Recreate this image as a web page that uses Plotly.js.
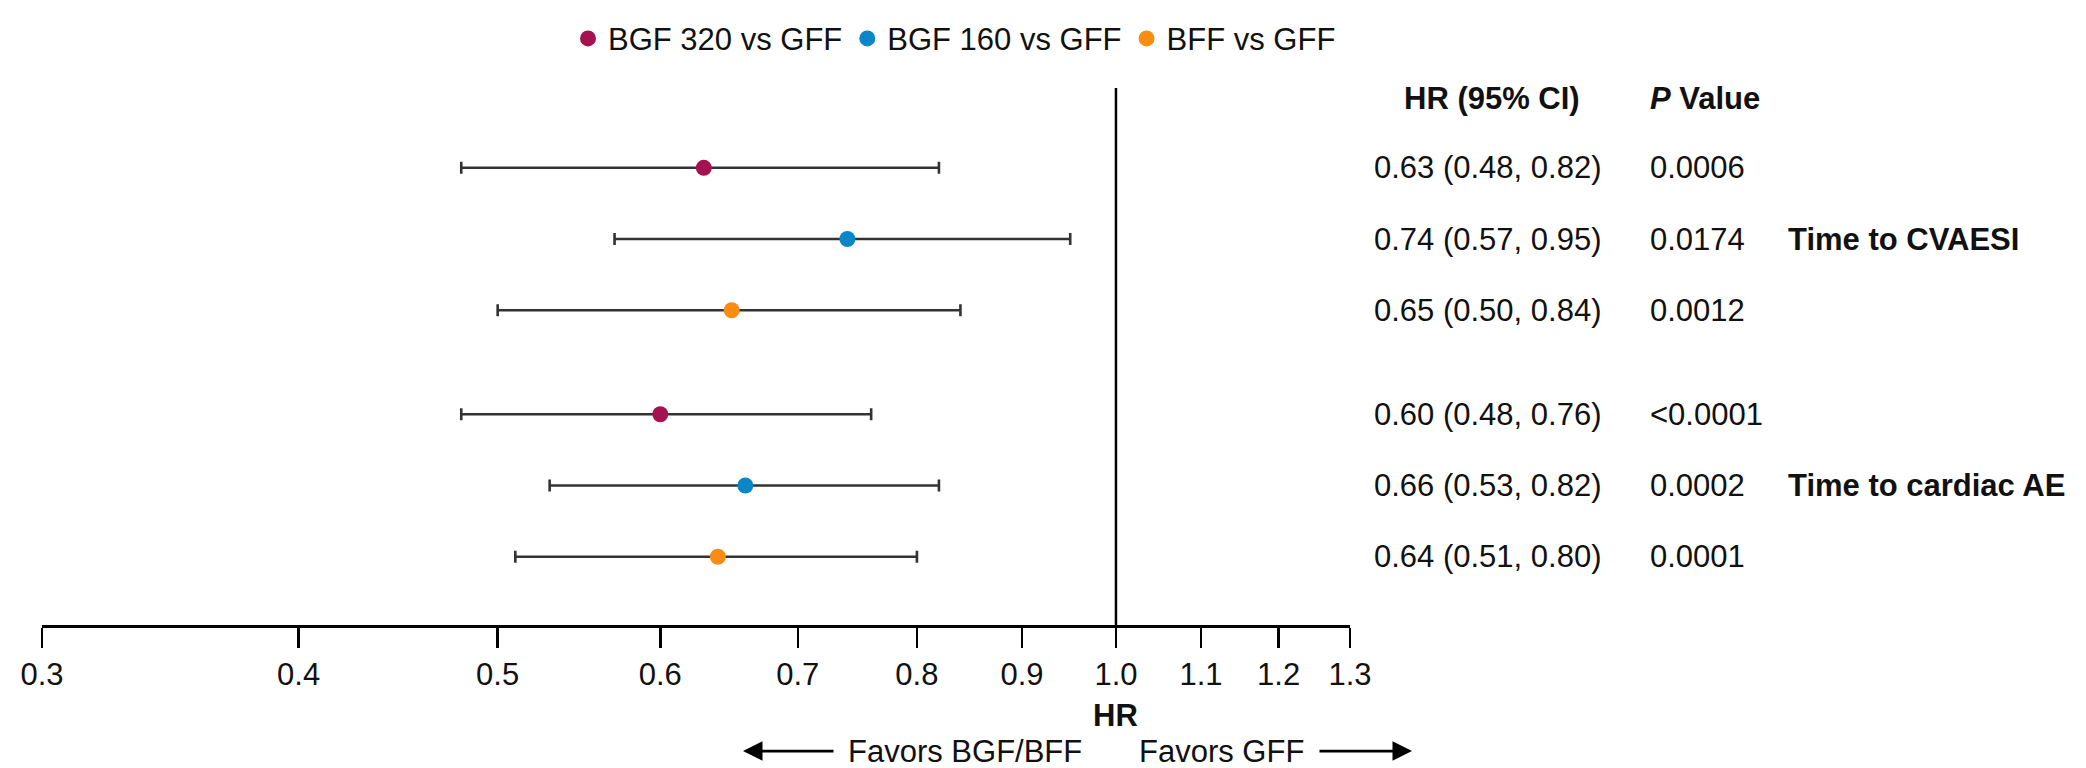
<!DOCTYPE html>
<html>
<head>
<meta charset="utf-8">
<script src="https://cdn.plot.ly/plotly-3.0.1.min.js"></script>
<style>
  html, body { margin: 0; padding: 0; background: #fff; }
  #chart { width: 2086px; height: 768px; }
</style>
</head>
<body>
<div id="chart"></div>
<script>
// ---- data ----
const seriesNames = ['BGF 320 vs GFF', 'BGF 160 vs GFF', 'BFF vs GFF'];
const outcomeNames = ['Time to CVAESI', 'Time to cardiac AE'];

const hrCVAESI    = [0.63, 0.74, 0.65];
const lowerCVAESI = [0.48, 0.57, 0.50];
const upperCVAESI = [0.82, 0.95, 0.84];
const pCVAESI     = ['0.0006', '0.0174', '0.0012'];

const hrCardiac    = [0.60, 0.66, 0.64];
const lowerCardiac = [0.48, 0.53, 0.51];
const upperCardiac = [0.76, 0.82, 0.80];
const pCardiac     = ['<0.0001', '0.0002', '0.0001'];

const tickValues = [0.3, 0.4, 0.5, 0.6, 0.7, 0.8, 0.9, 1.0, 1.1, 1.2, 1.3];
const tickLabels = ['0.3', '0.4', '0.5', '0.6', '0.7', '0.8', '0.9', '1.0', '1.1', '1.2', '1.3'];
const referenceHR = 1.0;

// ---- style / layout constants ----
const colors = ['#A3134F', '#0B86C6', '#FB8C13'];
const FONT = '"Liberation Sans", Arial, Helvetica, sans-serif';
const FS = 31;
const GROUP_STEP = 3.46;           // vertical offset between outcome groups (row units)
const Y_RANGE = [6.418, -1.12];    // reversed: first row on top

const groups = [
  { name: outcomeNames[0], hr: hrCVAESI, lo: lowerCVAESI, hi: upperCVAESI, p: pCVAESI },
  { name: outcomeNames[1], hr: hrCardiac, lo: lowerCardiac, hi: upperCardiac, p: pCardiac }
];
const rowY = (g, i) => g * GROUP_STEP + i;

// plot-area pixel geometry
const W = 2086, H = 768;
const M = { l: 42, r: 736, t: 80, b: 143 };
const plotW = W - M.l - M.r, plotH = H - M.t - M.b;
const px2paperX = px => (px - M.l) / plotW;
const px2paperY = py => (H - M.b - py) / plotH;

const traces = [];
// reference line at HR = 1
traces.push({
  x: [referenceHR, referenceHR], y: Y_RANGE, mode: 'lines',
  line: { color: '#000', width: 2.5 }, showlegend: false, hoverinfo: 'skip', cliponaxis: false
});

seriesNames.forEach((name, i) => {
  traces.push({
    type: 'scatter', mode: 'markers', name: name,
    x: groups.map(g => g.hr[i]),
    y: groups.map((g, gi) => rowY(gi, i)),
    error_x: {
      type: 'data', symmetric: false,
      array: groups.map(g => g.hi[i] - g.hr[i]),
      arrayminus: groups.map(g => g.hr[i] - g.lo[i]),
      color: '#333333', thickness: 2.6, width: 6
    },
    marker: { color: colors[i], size: 16 },
    cliponaxis: false
  });
});

const annotations = [];
const colHR = px2paperX(1372);
const colP = px2paperX(1648);
const colOutcome = px2paperX(1786);

groups.forEach((g, gi) => {
  g.hr.forEach((v, i) => {
    annotations.push({
      xref: 'paper', yref: 'y', x: colHR, y: rowY(gi, i), xanchor: 'left', yanchor: 'middle',
      text: `${v.toFixed(2)} (${g.lo[i].toFixed(2)}, ${g.hi[i].toFixed(2)})`, showarrow: false
    });
    annotations.push({
      xref: 'paper', yref: 'y', x: colP, y: rowY(gi, i), xanchor: 'left', yanchor: 'middle',
      text: g.p[i], showarrow: false
    });
  });
  annotations.push({
    xref: 'paper', yref: 'y', x: colOutcome, y: rowY(gi, 1), xanchor: 'left', yanchor: 'middle',
    text: `<b>${g.name}</b>`, showarrow: false
  });
});

// column headers
annotations.push({
  xref: 'paper', yref: 'paper', x: px2paperX(1492), y: px2paperY(91), xanchor: 'center', yanchor: 'middle',
  text: '<b>HR (95% CI)</b>', showarrow: false
});
annotations.push({
  xref: 'paper', yref: 'paper', x: colP, y: px2paperY(91), xanchor: 'left', yanchor: 'middle',
  text: '<b><i>P</i> Value</b>', showarrow: false
});

// axis title HR at the reference line
annotations.push({
  xref: 'x', yref: 'paper', x: Math.log10(referenceHR), y: px2paperY(717), xanchor: 'center', yanchor: 'middle',
  text: '<b>HR</b>', showarrow: false
});

// favors labels and arrows
const favY = px2paperY(753);
annotations.push({
  xref: 'paper', yref: 'paper', x: px2paperX(846), y: favY, xanchor: 'left', yanchor: 'middle',
  text: 'Favors BGF/BFF', showarrow: false
});
annotations.push({
  xref: 'paper', yref: 'paper', x: px2paperX(1137), y: favY, xanchor: 'left', yanchor: 'middle',
  text: 'Favors GFF', showarrow: false
});
annotations.push({
  xref: 'paper', yref: 'paper', x: px2paperX(743), y: favY, text: '', showarrow: true,
  axref: 'pixel', ayref: 'pixel', ax: 92, ay: 0,
  arrowhead: 2, arrowsize: 1.5, arrowwidth: 2.6, arrowcolor: '#000', standoff: 0, startstandoff: 0
});
annotations.push({
  xref: 'paper', yref: 'paper', x: px2paperX(1412), y: favY, text: '', showarrow: true,
  axref: 'pixel', ayref: 'pixel', ax: -94, ay: 0,
  arrowhead: 2, arrowsize: 1.5, arrowwidth: 2.6, arrowcolor: '#000', standoff: 0, startstandoff: 0
});

const layout = {
  width: W, height: H,
  margin: M,
  paper_bgcolor: '#fff', plot_bgcolor: '#fff',
  font: { family: FONT, size: FS, color: '#111' },
  showlegend: true,
  legend: {
    orientation: 'h', x: px2paperX(568), xanchor: 'left', y: px2paperY(30), yanchor: 'middle',
    font: { family: FONT, size: FS, color: '#111' }, itemclick: false, itemdoubleclick: false
  },
  xaxis: {
    type: 'log',
    range: [Math.log10(tickValues[0]), Math.log10(tickValues[tickValues.length - 1])],
    tickmode: 'array', tickvals: tickValues, ticktext: tickLabels,
    ticks: 'outside', ticklen: 20, tickwidth: 2.5, tickcolor: '#000',
    showline: true, linecolor: '#000', linewidth: 3,
    showgrid: false, zeroline: false,
    tickfont: { family: FONT, size: FS, color: '#111' },
    fixedrange: true
  },
  yaxis: {
    range: Y_RANGE, showticklabels: false, showgrid: false, zeroline: false, showline: false,
    ticks: '', fixedrange: true
  },
  annotations: annotations
};

Plotly.newPlot('chart', traces, layout, { displayModeBar: false, staticPlot: true });
</script>
</body>
</html>
